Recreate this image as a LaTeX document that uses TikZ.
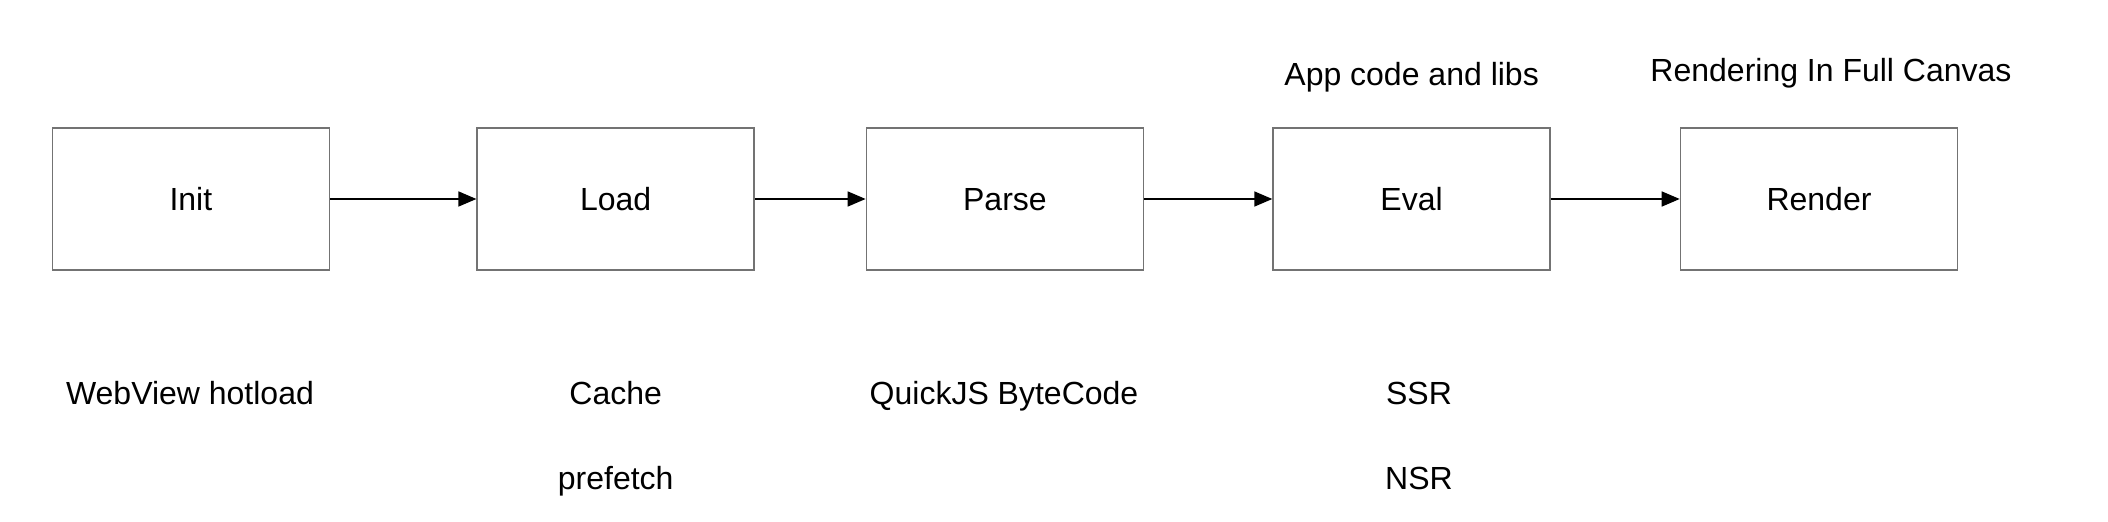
\documentclass[tikz,border=0pt]{standalone}
\usepackage{fontspec}
\setmainfont{Liberation Sans}
\usetikzlibrary{arrows.meta}
\begin{document}
\begin{tikzpicture}[x=0.5pt,y=-0.5pt,
  stagebox/.style={draw=black!55,line width=0.8pt,minimum width=138.5pt,minimum height=71pt,inner sep=0pt,text height=11.5pt,text depth=0pt,font=\fontsize{16}{19}\selectfont},
  lbl/.style={inner sep=0pt,text height=11.5pt,text depth=3.5pt,font=\fontsize{16}{19}\selectfont},
  flow/.style={line width=0.8pt,-{Triangle[length=9pt,width=7.5pt]}}]
\useasboundingbox (0,0) rectangle (2108,522);
\fill[white] (0,0) rectangle (2108,522);
\node[stagebox] (init) at (190.9,199) {Init};
\node[stagebox] (load) at (615.7,199) {Load};
\node[stagebox] (parse) at (1004.9,199) {Parse};
\node[stagebox] (eval) at (1411.6,199) {Eval};
\node[stagebox] (render) at (1819,199) {Render};
\draw[flow] (init) -- (load);
\draw[flow] (load) -- (parse);
\draw[flow] (parse) -- (eval);
\draw[flow] (eval) -- (render);
\node[lbl] (t1) at (1411.6,78) {App code and libs};
\node[lbl] (t2) at (1831,74) {Rendering In Full Canvas};
\node[lbl] (b1) at (190,397) {WebView hotload};
\node[lbl] (b2) at (615.7,397) {Cache};
\node[lbl] (b3) at (615.7,482) {prefetch};
\node[lbl] (b4) at (1004,397) {QuickJS ByteCode};
\node[lbl] (b5) at (1419,397) {SSR};
\node[lbl] (b6) at (1419,482) {NSR};
\end{tikzpicture}
\end{document}
